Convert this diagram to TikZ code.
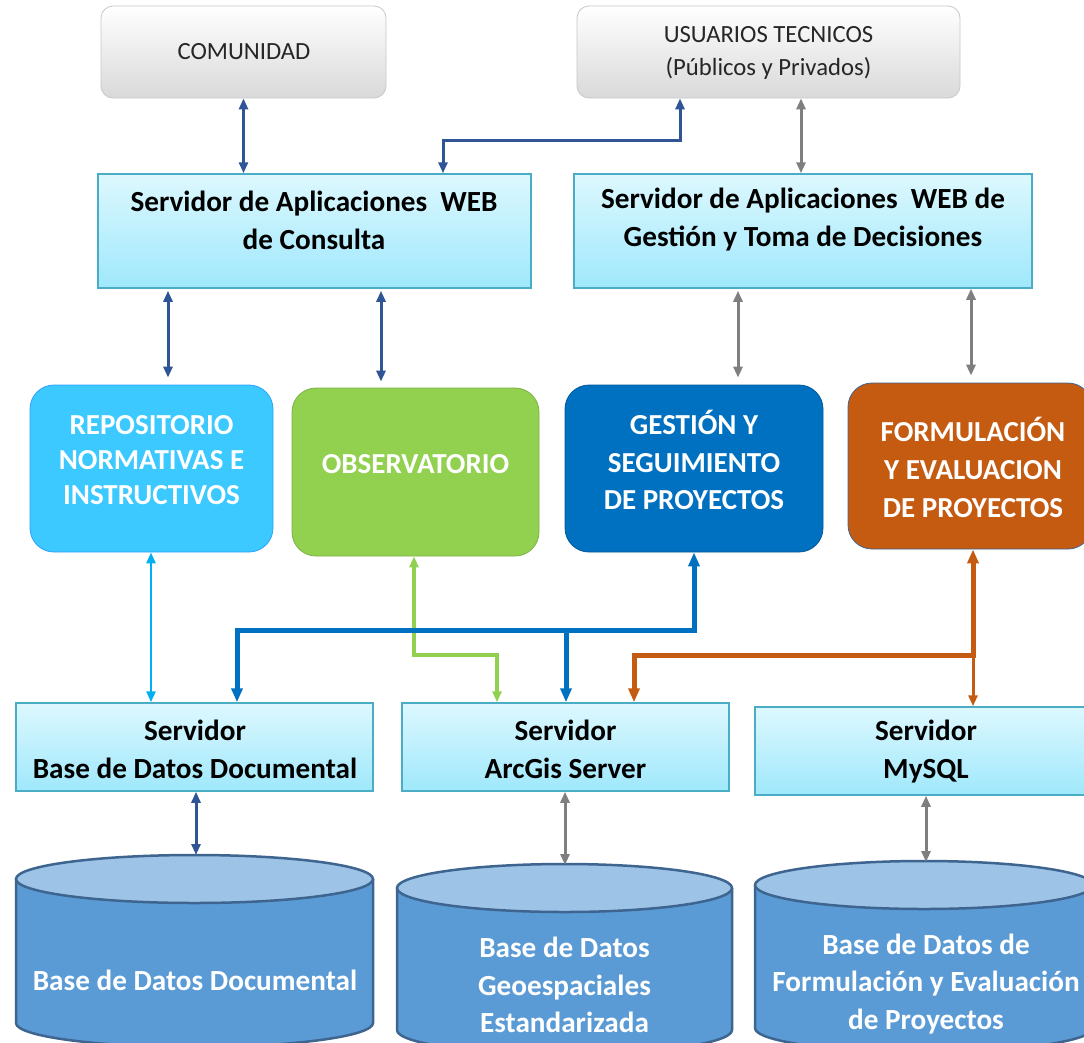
\documentclass[tikz,border=0pt]{standalone}
\usepackage{fontspec}
\setmainfont{Carlito}
\usetikzlibrary{arrows.meta}

\definecolor{linkblue}{HTML}{2F5597}
\definecolor{linkgray}{HTML}{7F7F7F}
\definecolor{skyline}{HTML}{00B0F0}
\definecolor{leaf}{HTML}{92D050}
\definecolor{ocean}{HTML}{0070C0}
\definecolor{rust}{HTML}{C55A11}
\definecolor{repofill}{HTML}{3BC9FF}
\definecolor{srvtop}{HTML}{DDF8FE}
\definecolor{srvbot}{HTML}{9FE8FC}
\definecolor{srvline}{HTML}{4BACC6}
\definecolor{cylbody}{HTML}{5B9BD5}
\definecolor{cyltop}{HTML}{9DC3E6}
\definecolor{cylline}{HTML}{3E6590}
\definecolor{grayline}{HTML}{C8C8C8}
\definecolor{graybot}{HTML}{D9D9D9}

% database cylinder: left x, right x, top centre y, bottom centre y
\newcommand{\dbcylinder}[4]{%
  \pgfmathsetmacro\cylcx{(#1+#2)/2}%
  \pgfmathsetmacro\cylrx{(#2-#1)/2}%
  \fill[cylbody] (#1,#3) -- (#1,#4)
    arc[start angle=180,end angle=360,x radius=\cylrx pt,y radius=24pt]
    -- (#2,#3) -- cycle;
  \draw[cylline,line width=2.5pt] (#1,#3) -- (#1,#4)
    arc[start angle=180,end angle=360,x radius=\cylrx pt,y radius=24pt]
    -- (#2,#3);
  \draw[cylline,line width=2.5pt,fill=cyltop]
    (\cylcx,#3) ellipse[x radius=\cylrx pt,y radius=24pt];
}

\tikzset{
  userbox/.style={rectangle,rounded corners=12pt,draw=grayline,line width=0.8pt,
    top color=white,bottom color=graybot,inner sep=0pt},
  serverbox/.style={rectangle,draw=srvline,line width=1.5pt,
    top color=srvtop,bottom color=srvbot,inner sep=0pt},
  modulebox/.style={rectangle,rounded corners=24pt,line width=0.8pt,inner sep=0pt},
  usertext/.style={font=\fontsize{24.7}{33}\selectfont,align=center,text=black!85},
  srvtext/.style={font=\bfseries\fontsize{29.2}{38}\selectfont,align=center},
  modtext/.style={font=\bfseries\fontsize{29}{36}\selectfont,align=center,text=white},
  dbtext/.style={font=\bfseries\fontsize{29.2}{37.5}\selectfont,align=center,text=white},
  link/.style={line width=3pt,{Triangle[length=11pt,width=9pt]}-{Triangle[length=11pt,width=9pt]}},
  linkone/.style={line width=3pt,-{Triangle[length=11pt,width=9pt]}},
  heavy/.style={line width=5pt},
}

\begin{document}
\begin{tikzpicture}[x=1pt,y=-1pt]
\useasboundingbox (0,0) rectangle (1084,1042);
\clip (0,0) rectangle (1084,1042);
\fill[white] (0,0) rectangle (1084,1042);

% users
\node[userbox,minimum width=285pt,minimum height=92pt] (comunidad) at (243.5,52) {};
\node[usertext] (comunidadtxt) at (244,52) {COMUNIDAD};
\node[userbox,minimum width=383pt,minimum height=92pt] (usuarios) at (768.5,52) {};
\node[usertext] (usuariostxt) at (768.5,52.5) {USUARIOS TECNICOS\\(Públicos y Privados)};

% web application servers
\node[serverbox,minimum width=433pt,minimum height=114pt] (web1) at (314.5,231) {};
\node[srvtext] (web1txt) at (314,220) {Servidor de Aplicaciones\ \ WEB\\de Consulta};
\node[serverbox,minimum width=458pt,minimum height=114pt] (web2) at (803,231) {};
\node[srvtext] (web2txt) at (803,220) {Servidor de Aplicaciones\ \ WEB de\\Gestión y Toma de Decisiones};

% modules
\node[modulebox,fill=repofill,draw=repofill!80!blue,minimum width=243pt,minimum height=167pt] (repo) at (151.5,468.5) {};
\node[modtext,font=\bfseries\fontsize{29}{35}\selectfont] (repotxt) at (151.5,460) {REPOSITORIO\\NORMATIVAS E\\INSTRUCTIVOS};
\node[modulebox,fill=leaf,draw=leaf!85!black,minimum width=247pt,minimum height=168pt] (obs) at (415.5,472) {};
\node[modtext] (obstxt) at (415.5,464) {OBSERVATORIO};
\node[modulebox,fill=ocean,draw=ocean!80!black,minimum width=258pt,minimum height=167pt] (gest) at (694,468.5) {};
\node[modtext,font=\bfseries\fontsize{29}{37.5}\selectfont] (gesttxt) at (694,460) {GESTIÓN Y\\SEGUIMIENTO\\DE PROYECTOS};
\node[modulebox,fill=rust,draw=cylline,minimum width=244pt,minimum height=166pt] (form) at (970,466) {};
\node[modtext,font=\bfseries\fontsize{29}{38}\selectfont] (formtxt) at (973,467) {FORMULACIÓN\\Y EVALUACION\\DE PROYECTOS};

% data servers
\node[serverbox,minimum width=357pt,minimum height=88pt] (sbd) at (194.5,747) {};
\node[srvtext] (sbdtxt) at (195,749) {Servidor\\Base de Datos Documental};
\node[serverbox,minimum width=327pt,minimum height=88pt] (sarc) at (565.5,747) {};
\node[srvtext] (sarctxt) at (565.5,749) {Servidor\\ArcGis Server};
\node[serverbox,minimum width=338pt,minimum height=88pt] (smy) at (924,751) {};
\node[srvtext] (smytxt) at (926,752) {Servidor\\MySQL};

% databases
\dbcylinder{16}{373}{879}{1023}
\dbcylinder{397}{732}{888}{1030}
\dbcylinder{755}{1093}{885}{1028}
\coordinate (db1) at (196,855);
\coordinate (db2) at (565,865);
\coordinate (db3) at (926,862);
\node[dbtext] (db1txt) at (195,980) {Base de Datos Documental};
\node[dbtext] (db2txt) at (564.5,985) {Base de Datos\\Geoespaciales\\Estandarizada};
\node[dbtext] (db3txt) at (926,984) {Base de Datos de\\Formulación y Evaluación\\de Proyectos};

% connector columns and bends
\coordinate (c168) at (168,0);
\coordinate (c381) at (381,0);
\coordinate (c738) at (738,0);
\coordinate (c971) at (971,0);
\coordinate (c151) at (151,0);
\coordinate (j1) at (443,140);
\coordinate (j2) at (680,140);
\coordinate (g1) at (414,655);
\coordinate (g2) at (497,655);
\coordinate (b1) at (694,630);
\coordinate (b2) at (237,630);
\coordinate (b3) at (566,630);
\coordinate (o1) at (973,655);
\coordinate (o2) at (634,655);

% users to web servers
\draw[link,linkblue] (comunidad.south) -- (comunidad.south |- web1.north);
\draw[link,linkblue] (j1 |- web1.north) -- (j1) -- (j2) -- (j2 |- usuarios.south);
\draw[link,linkgray] ([xshift=32.5pt]usuarios.south) -- ([xshift=32.5pt]usuarios.south |- web2.north);

% web servers to modules
\draw[link,linkblue,shorten <=2pt,shorten >=7pt] (c168 |- web1.south) -- (c168 |- repo.north);
\draw[link,linkblue,shorten <=2pt,shorten >=6pt] (c381 |- web1.south) -- (c381 |- obs.north);
\draw[link,linkgray,shorten <=2pt,shorten >=7pt] (c738 |- web2.south) -- (c738 |- gest.north);
\draw[link,linkgray,shorten >=7pt] (c971 |- web2.south) -- (c971 |- form.north);

% modules to data servers
\draw[link,skyline,line width=2.5pt] (c151 |- repo.south) -- (c151 |- sbd.north);
\draw[link,leaf,line width=3.5pt] (g1 |- obs.south) -- (g1) -- (g2) -- (g2 |- sarc.north);
\draw[link,ocean,heavy,{Triangle[length=14pt,width=11pt]}-{Triangle[length=14pt,width=11pt]}]
  (b1 |- gest.south) -- (b1) -- (b2) -- (b2 |- sbd.north);
\draw[linkone,ocean,heavy,-{Triangle[length=14pt,width=11pt]}] (b3) -- (b3 |- sarc.north);
\draw[link,rust,heavy,{Triangle[length=14pt,width=11pt]}-{Triangle[length=14pt,width=11pt]}]
  (o1 |- form.south) -- (o1) -- (o2) -- (o2 |- sarc.north);
\draw[linkone,rust,line width=3pt] (o1) -- (o1 |- smy.north);

% data servers to databases
\draw[link,linkblue] (db1 |- sbd.south) -- (db1);
\draw[link,linkgray] (db2 |- sarc.south) -- (db2);
\draw[link,linkgray] (db3 |- smy.south) -- (db3);
\end{tikzpicture}
\end{document}
